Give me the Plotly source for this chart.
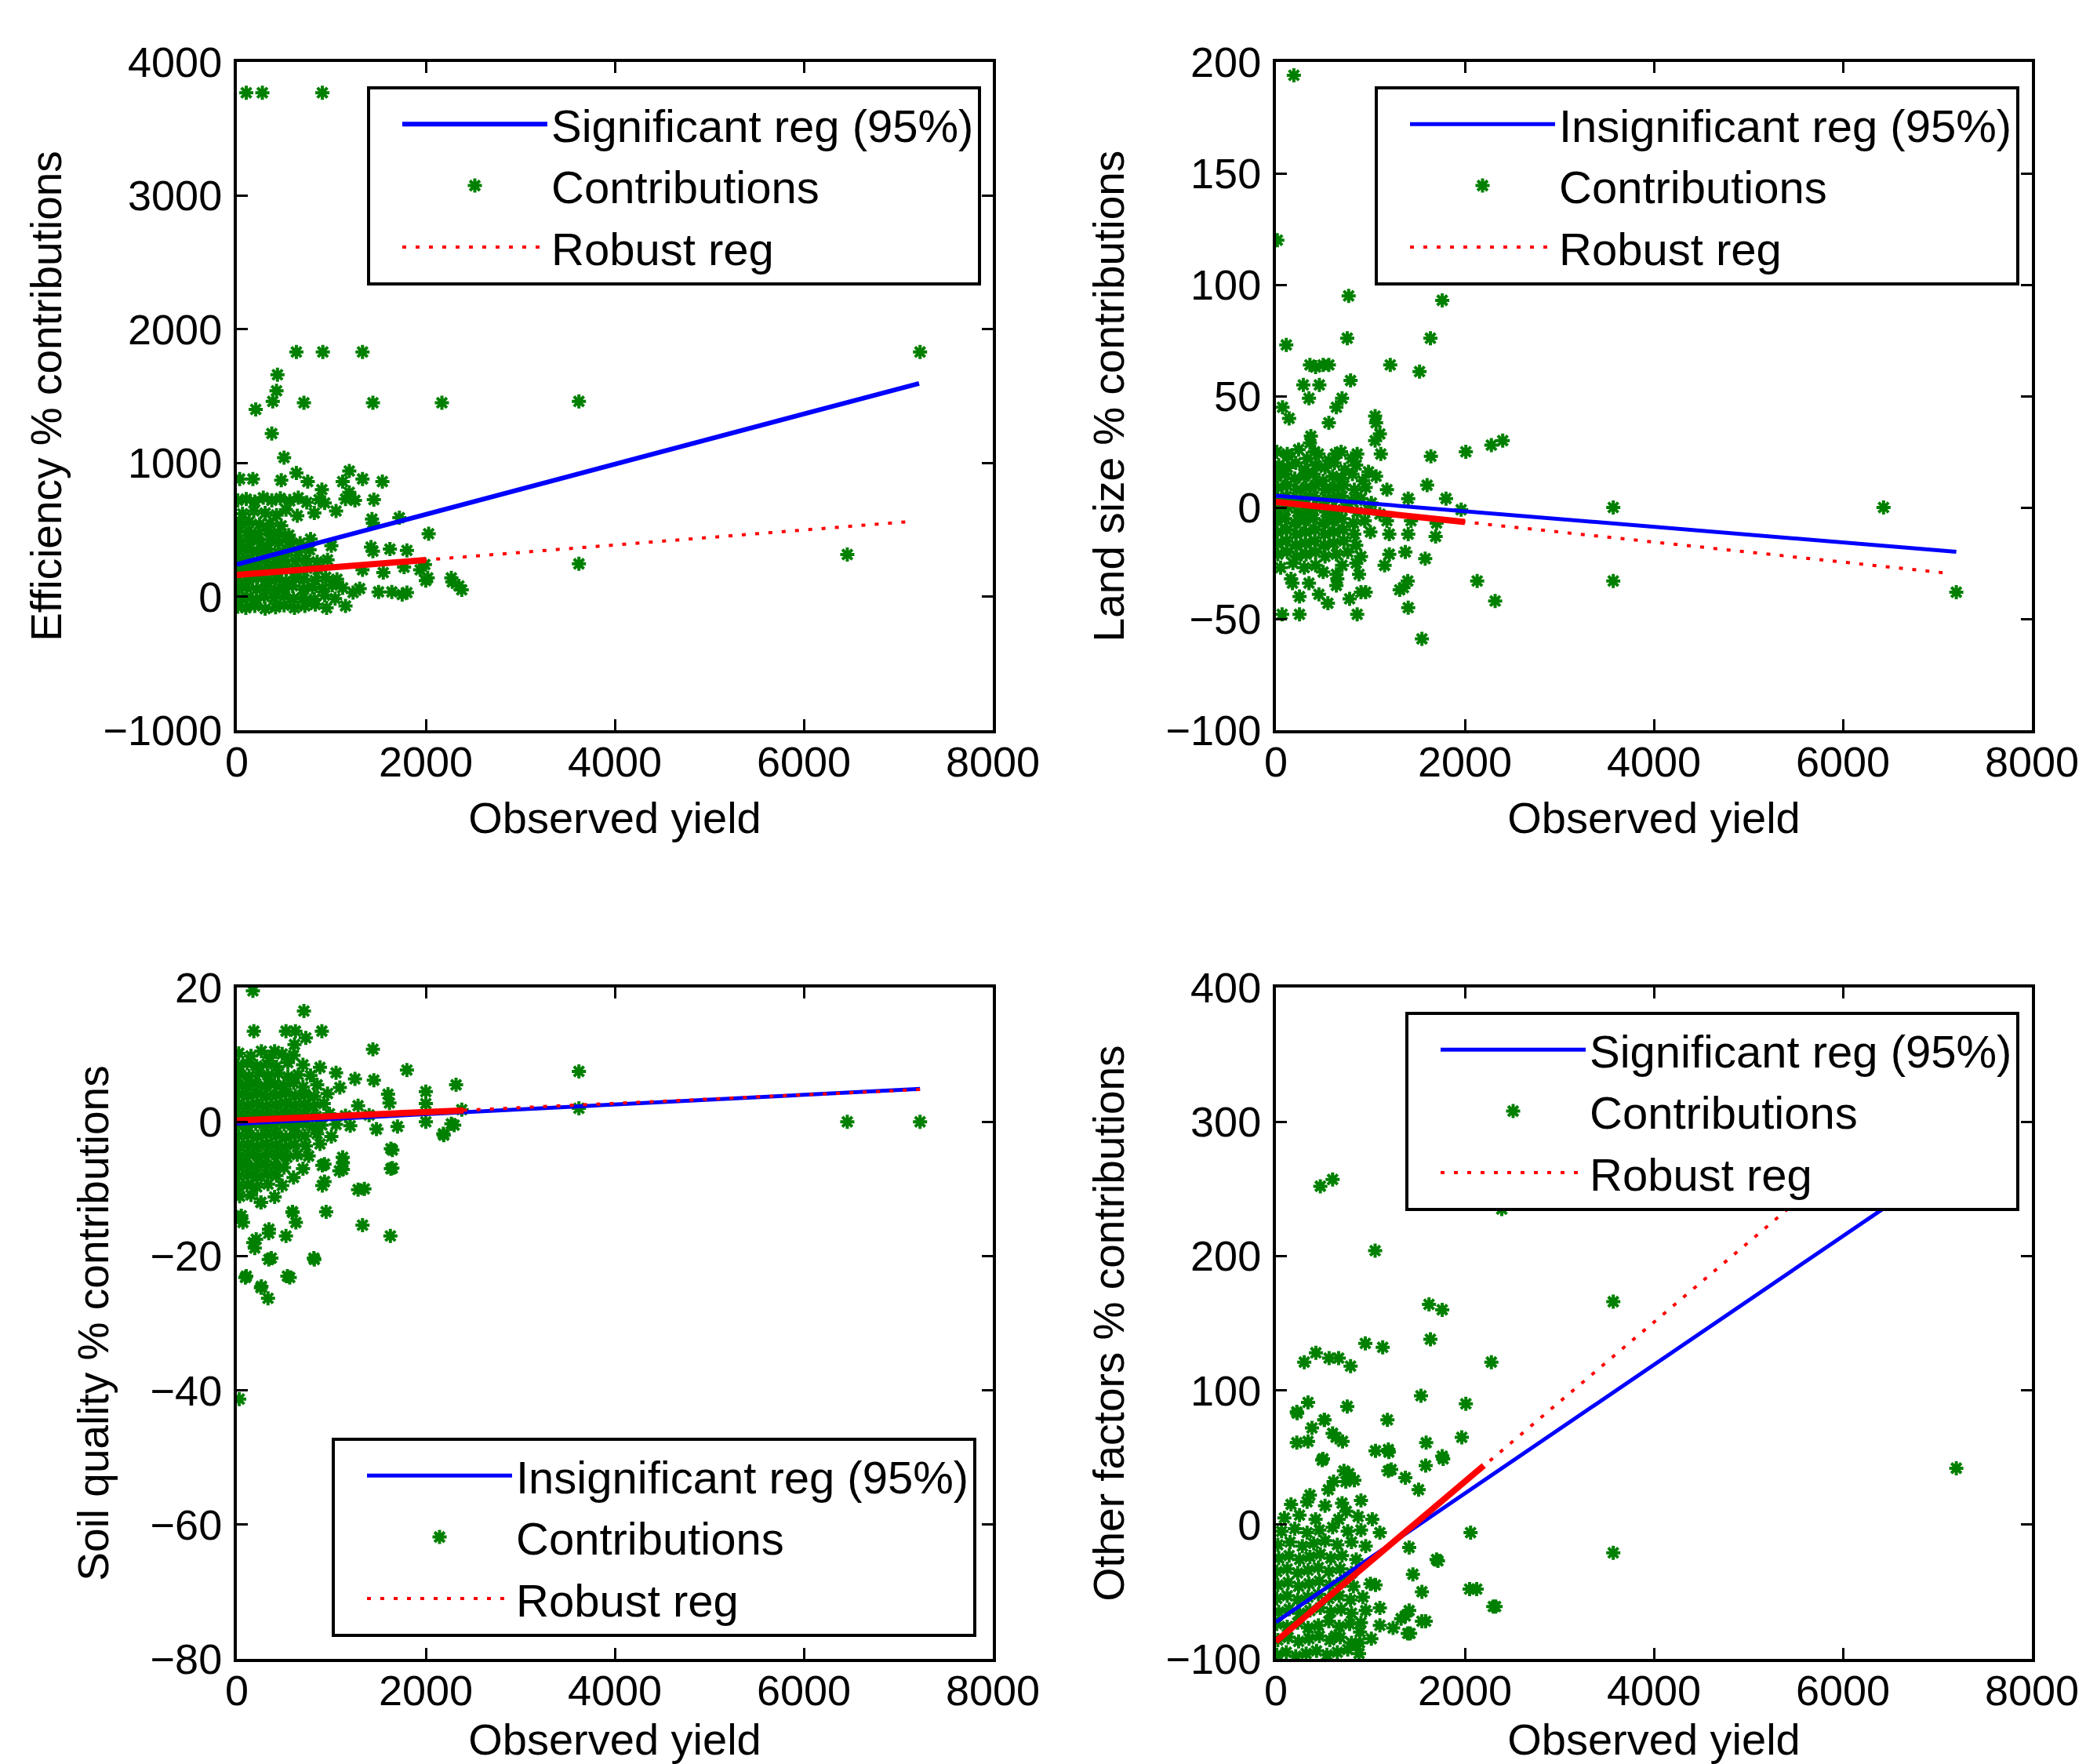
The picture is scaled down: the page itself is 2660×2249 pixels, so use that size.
import plotly.graph_objects as go

# ---------------- data ----------------
# Panel 1: Efficiency % contributions vs Observed yield
eff_points = [
    (10,-75),(95,-85),(190,-70),(300,-90),(410,-80),(500,-65),(610,-85),(720,-70),(830,-60),(1150,-70),(950,-85),
    (20,-15),(110,-5),(205,-20),(290,0),(395,-10),(505,5),(600,-15),(705,-5),(820,-20),(930,10),(1040,-15),(1230,30),(1500,35),(1640,35),(1800,30),
    (5,60),(100,70),(210,55),(310,75),(400,50),(495,65),(590,80),(700,55),(800,70),(910,60),(1010,85),(1120,65),(1300,60),
    (15,130),(120,120),(220,140),(320,125),(420,135),(520,115),(615,140),(710,130),(830,120),(940,145),(1060,130),(2020,140),(2270,140),(2350,80),
    (30,200),(130,210),(230,195),(330,215),(430,190),(525,205),(630,195),(740,210),(860,200),(1330,200),(1550,180),(1770,220),(1940,200),
    (10,270),(110,280),(215,265),(315,285),(410,260),(510,275),(620,265),(730,280),(850,260),(960,275),(1990,240),
    (20,340),(120,350),(220,335),(330,355),(440,330),(540,345),(650,335),(770,350),(1000,380),(1420,370),(1620,355),(1800,345),
    (40,410),(140,420),(250,400),(350,425),(450,405),(560,415),(670,400),(780,430),
    (10,480),(120,490),(230,470),(330,495),(440,475),(550,460),(2030,470),
    (30,550),(130,560),(240,540),(350,545),(470,530),(1430,580),(1440,550),(1720,590),
    (60,620),(180,640),(300,625),(420,610),(520,650),(640,605),(820,625),(1050,640),
    (10,720),(100,730),(190,710),(280,740),(370,720),(460,735),(560,715),(650,740),(740,705),(870,725),(930,700),(1150,730),(1250,720),(1450,725),
    (900,800),(1190,780),(30,880),(170,880),(470,870),(750,860),(1120,860),(1330,880),(1540,860),(1190,940),(630,925),(500,1040),
    (100,3770),(270,3770),(905,3770),(630,1830),(910,1830),(1330,1830),(7230,1830),(430,1660),(420,1540),
    (380,1460),(710,1450),(1440,1450),(2170,1450),(3620,1460),(200,1400),(370,1220),(3620,245),(6460,315),
    (2280,110),(2380,50),(1750,15),(1440,340),(2000,120),
]
eff_x = [p[0] for p in eff_points]
eff_y = [p[1] for p in eff_points]
eff_sig_x = [0, 7220]
eff_sig_y = [240, 1595]
eff_rob_x = [0, 7100]
eff_rob_y = [162, 560]
eff_rob_dense_x = [0, 2000]
eff_rob_dense_y = [162, 274]

# Panel 2: Land size % contributions
land_points = [
    (10,25),(130,23),(240,26),(330,22),(450,24),(560,21),(690,25),(800,22),
    (30,19),(120,18),(210,20),(310,17),(420,19),(520,18),(620,20),(730,17),(850,19),(980,16),
    (5,14),(100,15),(200,13),(300,14),(400,15),(500,12),(600,14),(700,13),(810,15),(920,12),(1060,14),
    (20,9),(120,10),(220,8),(320,9),(420,10),(520,8),(620,9),(720,10),(830,8),(950,9),
    (10,4),(110,5),(200,3),(300,4),(400,5),(500,3),(600,4),(700,5),(800,3),(900,4),(1010,2),
    (25,-1),(130,0),(230,-2),(330,-1),(430,0),(530,-2),(630,-1),(740,0),(860,-2),(980,-1),(1100,-3),
    (5,-6),(100,-5),(200,-7),(300,-6),(400,-5),(500,-7),(600,-6),(700,-5),(820,-7),(940,-6),
    (15,-11),(115,-10),(215,-12),(315,-11),(415,-10),(515,-12),(615,-11),(715,-10),(830,-12),(1000,-11),
    (10,-16),(110,-15),(210,-17),(310,-16),(410,-15),(510,-17),(610,-16),(720,-15),(850,-17),
    (20,-21),(120,-20),(220,-22),(320,-21),(420,-20),(520,-22),(640,-21),(760,-20),(900,-22),
    (50,-27),(180,-25),(300,-27),(420,-26),(500,-29),(700,-26),(850,-25),
    (250,-40),(550,-43),(780,-41),
    (190,194),(15,120),(770,95),(1760,93),(110,73),(755,76),(1635,76),(1210,64),(1520,61),
    (360,64),(420,63),(500,64),(560,64),(790,57),(290,55),(460,55),(350,49),(700,49),(70,45),(640,45),
    (1050,41),(140,40),(560,38),(1060,38),(370,32),(1050,30),(1100,33),(360,29),(2010,25),
    (2280,28),(2400,30),(1640,23),(120,24),(410,25),(630,24),(860,24),(1110,24),(1600,10),(1175,8),
    (1800,4),(1400,4),(1960,-1),(3570,0),(6430,0),(3570,-33),(7200,-38),(2130,-33),(2320,-42),
    (1545,-59),(1400,-45),(1395,-33),(1350,-36),(1310,-37),(860,-48),(66,-48),(250,-48),(1690,-13),
    (1400,-12),(1370,-20),(1580,-23),(1200,-12),(1200,-21),(1150,-26),(900,-38),(950,-38),(880,-30),
    (175,-34),(350,-34),(455,-39),(640,-35),(640,-30),(1175,-6),(1430,-6),(1700,-7),(160,-32),(650,-32),
]
land_x = [p[0] for p in land_points]
land_y = [p[1] for p in land_points]
land_reg_x = [0, 7200]
land_reg_y = [5.3, -19.9]
land_rob_x = [0, 7104]
land_rob_y = [2.5, -29.5]
land_rob_dense_x = [0, 2000]
land_rob_dense_y = [2.5, -6.5]

# Panel 3: Soil quality % contributions
soil_points = [
    (20,10.2),(150,9.8),(260,10.5),(350,9.6),(480,10.1),(600,9.9),
    (10,8.4),(110,8.7),(210,8.3),(320,8.6),(420,8.2),(540,8.8),(700,8.5),(880,8.1),
    (30,7.1),(130,6.8),(230,7.3),(330,6.9),(440,7.2),(540,6.7),(650,7.0),(780,6.9),(1050,7.3),
    (5,5.6),(100,5.4),(200,5.7),(300,5.3),(400,5.6),(500,5.4),(600,5.8),(700,5.2),(850,5.5),(1250,6.4),(1450,6.2),
    (20,4.1),(120,3.9),(220,4.2),(320,3.8),(420,4.0),(520,4.3),(620,3.9),(720,4.1),(820,3.8),(960,4.2),(1090,5.1),(1600,4.1),
    (10,2.6),(110,2.4),(210,2.7),(310,2.3),(410,2.5),(510,2.8),(610,2.4),(710,2.6),(810,2.3),(920,2.7),(1283,2.4),(1615,2.8),(2000,2.7),
    (30,1.1),(130,0.9),(230,1.2),(330,0.8),(430,1.0),(530,1.3),(630,0.9),(730,1.1),(840,0.8),(980,1.2),(1150,0.9),(1400,1.0),
    (5,-0.4),(100,-0.6),(200,-0.3),(300,-0.7),(400,-0.5),(500,-0.4),(600,-0.6),(700,-0.3),(800,-0.7),(900,-0.5),(1050,-0.4),(1200,-0.6),(1478,-1.1),(1700,-0.7),(2270,-0.3),(2185,-1.8),
    (20,-2.1),(120,-1.9),(220,-2.2),(320,-1.8),(420,-2.0),(520,-2.3),(620,-1.9),(720,-2.1),(850,-1.8),(1000,-2.2),
    (10,-3.6),(110,-3.4),(210,-3.7),(310,-3.3),(410,-3.5),(510,-3.8),(610,-3.4),(730,-3.6),(880,-3.3),(1646,-4.2),
    (30,-5.1),(130,-4.9),(230,-5.2),(330,-4.8),(430,-5.0),(530,-5.3),(640,-4.9),(760,-5.1),
    (5,-6.6),(100,-6.4),(200,-6.7),(300,-6.3),(400,-6.5),(500,-6.8),(700,-7.0),(928,-6.3),(1122,-6.1),(1122,-7.1),(1646,-6.9),
    (20,-8.1),(120,-7.9),(220,-8.2),(320,-7.8),(420,-8.0),(600,-8.3),(928,-8.9),
    (10,-9.6),(110,-9.4),(210,-9.7),(330,-9.3),(480,-9.5),(1283,-10.1),
    (30,-11.1),(150,-10.9),(255,-12.0),(400,-11.2),
    (170,19.5),(710,16.5),(180,13.5),(520,13.5),(620,13.5),(900,13.5),(730,12.5),(1440,10.8),(610,11.5),(400,10.5),
    (3620,7.5),(1800,7.7),(2320,5.5),(2000,4.5),(6460,0),(7230,0),(3620,2),(2380,1.8),(2300,-0.5),(2000,0),
    (2190,-2),(1630,-4),(1630,-7),(1120,-5.3),(1085,-7.3),(905,-6.5),(905,-9.5),(1350,-10),(945,-13.4),
    (1330,-15.4),(1625,-17),(815,-20.3),(365,-20.3),(535,-23),(100,-23),(260,-24.5),(330,-26.3),(25,-41.3),
    (590,-13.5),(625,-15),(340,-16),(520,-17),(205,-17.5),(190,-18.8),(25,-14.3),(65,-15),
    (588,-13.4),(338,-16.6),(174,-18),(338,-20.5),(820,-20.5),(91,-23.2),(560,-23.2),(255,-24.7),(47,-14),(255,-12),
]
soil_x = [p[0] for p in soil_points]
soil_y = [p[1] for p in soil_points]
soil_reg_x = [0, 7230]
soil_reg_y = [-0.3, 4.9]
soil_rob_x = [0, 7230]
soil_rob_y = [0.2, 4.8]
soil_rob_dense_x = [0, 2400]
soil_rob_dense_y = [0.2, 1.7]

# Panel 4: Other factors % contributions
other_points = [
    (10,-97),(110,-95),(210,-98),(320,-96),(430,-94),(540,-97),(650,-95),(760,-93),(880,-96),
    (20,-86),(130,-84),(240,-87),(350,-85),(460,-83),(570,-86),(680,-84),(800,-88),(885,-88),(1010,-85),
    (10,-74),(120,-76),(230,-73),(340,-77),(450,-75),(560,-72),(670,-76),(780,-74),(900,-73),(1100,-75),(1240,-77),
    (30,-65),(140,-63),(250,-66),(360,-64),(470,-62),(580,-65),(690,-63),(800,-66),(950,-64),(1100,-62),
    (10,-55),(120,-53),(230,-56),(340,-54),(450,-52),(560,-55),(670,-53),(790,-56),(920,-54),
    (20,-45),(130,-43),(240,-46),(350,-44),(460,-42),(570,-45),(690,-43),(820,-46),(1000,-44),
    (10,-35),(120,-33),(230,-36),(340,-34),(450,-32),(560,-35),(680,-33),(800,-36),
    (30,-25),(140,-23),(250,-26),(360,-24),(470,-22),(580,-25),(700,-23),(850,-26),
    (20,-15),(150,-13),(280,-16),(400,-14),(520,-12),(650,-15),(800,-13),(950,-16),
    (60,-5),(200,-3),(330,-6),(460,-4),(600,-2),(760,-5),(900,-4),(1100,-6),
    (90,5),(250,7),(420,4),(665,4),(745,10),(1020,4),(870,6),
    (160,15),(330,17),(520,14),(700,16),(900,18),
    (360,22),(555,26),(610,32),(830,33),
    (470,252),(600,257),(2390,235),(1050,204),(3570,166),(1620,164),(1760,160),(1635,138),(946,135),(1130,132),
    (2280,121),(300,121),(423,128),(563,124),(664,124),(790,118),(1535,96),(2010,90),(340,91),(755,88),
    (225,83),(1180,78),(515,78),(382,72),(1967,65),(600,68),(705,62),(340,62),(1590,61),(1195,54),(1054,55),
    (1760,51),(490,48),(1585,44),(1220,41),(772,38),(740,32),(1370,35),(7200,42),(3570,-21),(2060,-6),
    (1700,-26),(2125,-48),(2325,-61),(1370,-68),(1395,-81),(1585,-72),(1054,-45),(890,-80),(855,-90),(630,-83),
    (221,84),(511,78),(221,61),(636,65),(498,49),(1770,49),(1190,56),(720,40),(1190,40),(1510,26),
    (1410,-17),(1715,-27),(1450,-37),(2050,-48),(1545,-50),(1410,-64),(1325,-70),(1545,-72),(1420,-81),(2300,-61),
]
other_x = [p[0] for p in other_points]
other_y = [p[1] for p in other_points]
other_reg_x = [0, 7200]
other_reg_y = [-72.6, 272.3]
other_rob_x = [0, 7200]
other_rob_y = [-87, 341]
other_rob_dense_x = [0, 2200]
other_rob_dense_y = [-87, 44]

panels = [
    dict(x=eff_x, y=eff_y, rx=eff_sig_x, ry=eff_sig_y, bx=eff_rob_x, by=eff_rob_y,
         dx=eff_rob_dense_x, dy=eff_rob_dense_y, reg_name="Significant reg (95%)",
         ytitle="Efficiency % contributions", yrange=[-1000, 4000], dtick=1000, bluew=6),
    dict(x=land_x, y=land_y, rx=land_reg_x, ry=land_reg_y, bx=land_rob_x, by=land_rob_y,
         dx=land_rob_dense_x, dy=land_rob_dense_y, reg_name="Insignificant reg (95%)",
         ytitle="Land size % contributions", yrange=[-100, 200], dtick=50, bluew=5),
    dict(x=soil_x, y=soil_y, rx=soil_reg_x, ry=soil_reg_y, bx=soil_rob_x, by=soil_rob_y,
         dx=soil_rob_dense_x, dy=soil_rob_dense_y, reg_name="Insignificant reg (95%)",
         ytitle="Soil quality % contributions", yrange=[-80, 20], dtick=20, bluew=5),
    dict(x=other_x, y=other_y, rx=other_reg_x, ry=other_reg_y, bx=other_rob_x, by=other_rob_y,
         dx=other_rob_dense_x, dy=other_rob_dense_y, reg_name="Significant reg (95%)",
         ytitle="Other factors % contributions", yrange=[-100, 400], dtick=100, bluew=5),
]

W, H = 2660, 2249
MB = 134                      # bottom margin (room for the lower x titles)
PH = H - MB                   # plot-area height in px
FONT = "Liberation Sans, Arial, sans-serif"

def fy(px):                   # pixel row -> paper fraction
    return 1 - px / PH

xdomains = [[302 / W, 1266 / W], [1627 / W, 2591 / W], [302 / W, 1266 / W], [1627 / W, 2591 / W]]
ydomains = [[fy(931), fy(79)], [fy(931), fy(79)], [fy(2115), fy(1259)], [fy(2115), fy(1259)]]
legend_pos = [
    dict(x=1251 / W, y=fy(110), xanchor="right", yanchor="top"),
    dict(x=2575 / W, y=fy(110), xanchor="right", yanchor="top"),
    dict(x=1245 / W, y=fy(2087), xanchor="right", yanchor="bottom"),
    dict(x=2575 / W, y=fy(1290), xanchor="right", yanchor="top"),
]

GREEN = "rgb(0,128,0)"
fig = go.Figure()
layout = dict(width=W, height=H, margin=dict(l=0, r=0, t=0, b=MB, autoexpand=False),
              paper_bgcolor="white", plot_bgcolor="white",
              font=dict(family=FONT, size=54, color="black"), showlegend=True)

for i, p in enumerate(panels):
    sfx = "" if i == 0 else str(i + 1)
    xa, ya, lg = "x" + sfx, "y" + sfx, "legend" + sfx
    fig.add_trace(go.Scatter(x=p["x"], y=p["y"], mode="markers", name="Contributions",
                             xaxis=xa, yaxis=ya, legend=lg, legendrank=2,
                             marker=dict(symbol="asterisk-open", size=15, color=GREEN,
                                         line=dict(color=GREEN, width=4))))
    fig.add_trace(go.Scatter(x=p["rx"], y=p["ry"], mode="lines", name=p["reg_name"],
                             xaxis=xa, yaxis=ya, legend=lg, legendrank=1,
                             line=dict(color="rgb(0,0,255)", width=p["bluew"])))
    fig.add_trace(go.Scatter(x=p["dx"], y=p["dy"], mode="lines", showlegend=False,
                             xaxis=xa, yaxis=ya, legend=lg, hoverinfo="skip",
                             line=dict(color="rgb(255,0,0)", width=8)))
    fig.add_trace(go.Scatter(x=p["bx"], y=p["by"], mode="lines", name="Robust reg",
                             xaxis=xa, yaxis=ya, legend=lg, legendrank=3,
                             line=dict(color="rgb(255,0,0)", width=4, dash="5px,12px")))

    layout["xaxis" + sfx] = dict(
        domain=xdomains[i], anchor=ya, range=[0, 8000], tickvals=[0, 2000, 4000, 6000, 8000],
        ticks="inside", ticklen=14, tickwidth=3, tickcolor="black", showline=True, linewidth=4,
        linecolor="black", mirror="ticks", showgrid=False, zeroline=False, automargin=False,
        tickfont=dict(family=FONT, size=54, color="black"), ticklabelstandoff=-10,
        title=dict(text="Observed yield", font=dict(family=FONT, size=56, color="black"), standoff=24))
    layout["yaxis" + sfx] = dict(
        domain=ydomains[i], anchor=xa, range=p["yrange"], dtick=p["dtick"],
        ticks="inside", ticklen=14, tickwidth=3, tickcolor="black", showline=True, linewidth=4,
        linecolor="black", mirror="ticks", showgrid=False, zeroline=False, automargin=False,
        tickfont=dict(family=FONT, size=54, color="black"), ticklabelstandoff=4,
        title=dict(text=p["ytitle"], font=dict(family=FONT, size=55, color="black"), standoff=36))
    layout[lg] = dict(**legend_pos[i], bgcolor="white", bordercolor="black", borderwidth=4,
                      font=dict(family=FONT, size=58, color="black"), itemwidth=185,
                      indentation=36, traceorder="normal", tracegroupgap=0)

fig.update_layout(**layout)
fig.write_html("out.html", config={"displayModeBar": False},
               post_script="document.body.style.margin='0';")
